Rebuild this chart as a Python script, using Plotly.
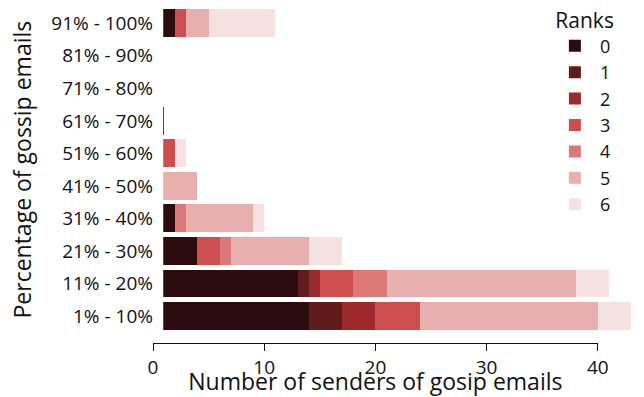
import plotly.graph_objects as go

categories = ["1% - 10%", "11% - 20%", "21% - 30%", "31% - 40%", "41% - 50%",
              "51% - 60%", "61% - 70%", "71% - 80%", "81% - 90%", "91% - 100%"]
rank_names = ["0", "1", "2", "3", "4", "5", "6"]
rank0 = [14, 13, 4, 2, 0, 0, 1, 0, 0, 2]
rank1 = [3, 1, 0, 0, 0, 0, 0, 0, 0, 0]
rank2 = [3, 1, 0, 0, 0, 0, 0, 0, 0, 0]
rank3 = [4, 3, 2, 0, 0, 2, 0, 0, 0, 1]
rank4 = [0, 3, 1, 1, 0, 0, 0, 0, 0, 0]
rank5 = [16, 17, 7, 6, 4, 0, 0, 0, 0, 2]
rank6 = [3, 3, 3, 1, 0, 1, 0, 0, 0, 6]
x_ticks = [0, 10, 20, 30, 40]

series = [rank0, rank1, rank2, rank3, rank4, rank5, rank6]
colors = ["#2c0c0e", "#611b1d", "#9c2a2c", "#cd4e4f", "#dc7878", "#e8afaf", "#f6e1e1"]

FONT = "Open Sans"
W, H = 644, 397
L, R, T, B = 153, 4, 7, 54
pw = W - L - R
ph = H - T - B
s = 11.12          # px per unit
v0 = 0.92          # first visible value of the bar axis
ybottom = 10.7     # gap between bar area and the x axis line (px)

fig = go.Figure()
for name, vals, c in zip(rank_names, series, colors):
    fig.add_trace(go.Bar(y=categories, x=vals, orientation="h", name=name,
                         marker=dict(color=c, line=dict(width=0)),
                         xaxis="x", yaxis="y"))
# empty trace on the tick axis so that it is drawn
fig.add_trace(go.Scatter(x=[], y=[], xaxis="x2", yaxis="y", showlegend=False))

fig.update_layout(
    width=W, height=H,
    margin=dict(l=L, r=R, t=T, b=B, pad=0, autoexpand=False),
    paper_bgcolor="white", plot_bgcolor="rgba(0,0,0,0)",
    barmode="stack", bargap=0.14,
    font=dict(family=FONT, color="#111111", size=17),
    xaxis=dict(domain=[v0 * s / pw, 1], range=[v0, pw / s], visible=False,
               fixedrange=True, automargin=False),
    xaxis2=dict(domain=[0, 40 * s / pw], range=[0, 40], anchor="free",
                position=0, tickvals=x_ticks, automargin=False,
                ticks="outside", ticklen=7, tickwidth=1.3, tickcolor="#111111",
                showline=True, linecolor="#111111", linewidth=1.3,
                showgrid=False, zeroline=False,
                tickfont=dict(size=19, family=FONT),
                title=dict(text="Number of senders of gosip emails",
                           font=dict(size=23, family=FONT), standoff=0)),
    yaxis=dict(domain=[ybottom / ph, 1], categoryorder="array",
               categoryarray=categories, anchor="free", position=0,
               automargin=False,
               showline=False, ticks="", showgrid=False, zeroline=False,
               tickfont=dict(size=19, family=FONT),
               title=dict(text="Percentage of gossip emails",
                          font=dict(size=23, family=FONT), standoff=12)),
    legend=dict(x=0.815, y=1.02, xanchor="left", yanchor="top",
                traceorder="normal", font=dict(size=18, family=FONT),
                title=dict(text="Ranks", side="top right",
                           font=dict(size=21, family=FONT)),
                bgcolor="rgba(0,0,0,0)", itemwidth=40, entrywidth=50,
                maxheight=1.0),
    showlegend=True,
)

fig.write_html("out.html")
